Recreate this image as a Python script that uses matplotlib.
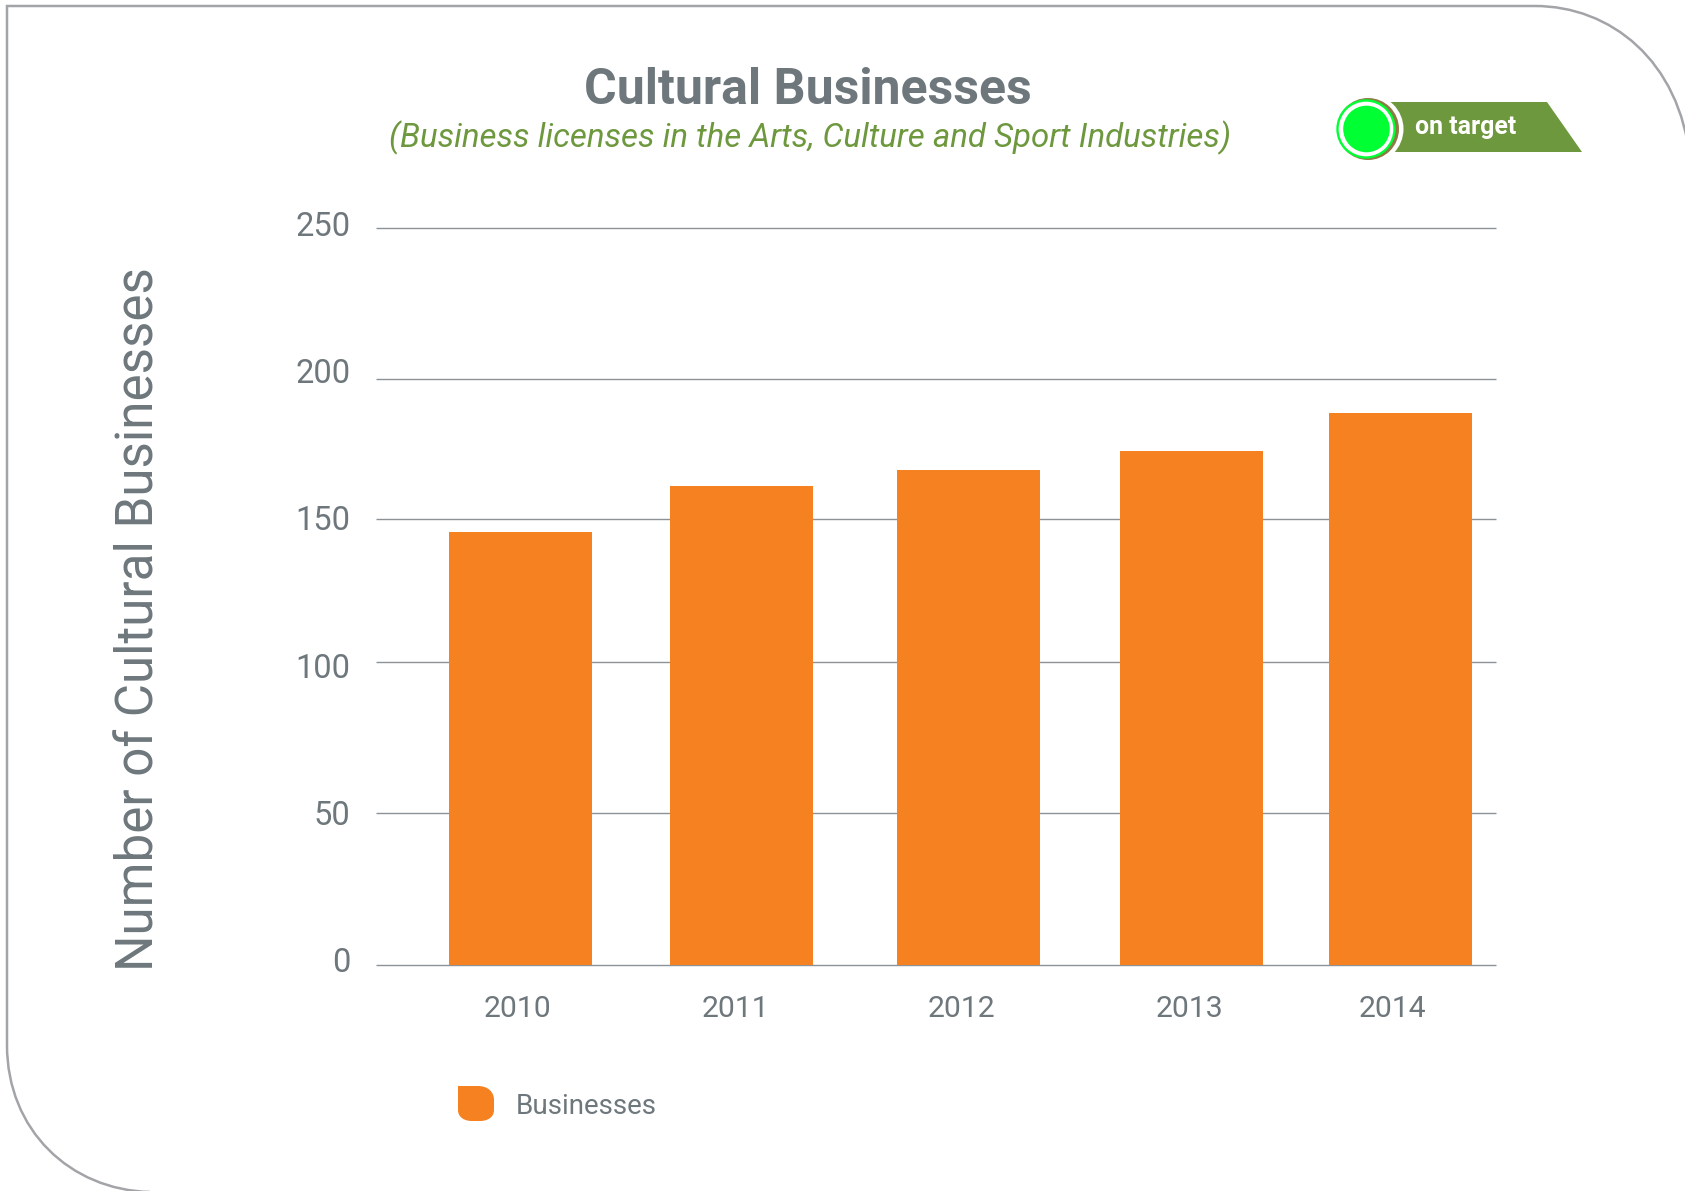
import matplotlib
matplotlib.use('Agg')
import matplotlib.pyplot as plt
from matplotlib.patches import Circle, PathPatch, Polygon
from matplotlib.path import Path
from matplotlib.transforms import Affine2D, ScaledTranslation

plt.rcParams['font.family'] = ['Roboto', 'DejaVu Sans']

W, H = 1685, 1191

years = ['2010', '2011', '2012', '2013', '2014']
businesses = [147, 162.5, 168, 174.5, 187.2]
y_ticks = [0, 50, 100, 150, 200, 250]

# the gridlines in the original are not evenly spaced
grid_levels = [0, 51.4, 102.8, 151.3, 198.8, 250]

# slots are not regular either
bar_pos = [0, 1.005, 2.036, 3.05, 4]
label_pos = [-0.012, 0.98, 2.006, 3.043, 3.965]

GREY = '#6d777c'
ORANGE = '#f68121'
GREEN = '#6d983e'
LIME = '#00ff33'

fig = plt.figure(figsize=(W / 100, H / 100), dpi=100, facecolor='white')
ax = fig.add_axes([376 / W, (H - 965) / H, 1120 / W, 737 / H])

# everything outside the axes is placed in picture pixels, y going down
px = Affine2D().scale(1 / W, -1 / H).translate(0, 1) + fig.transFigure

ax.hlines(grid_levels, -0.655, 4.436, color='#8c9296', lw=1.0, zorder=1, clip_on=False)
ax.bar(bar_pos, businesses, width=0.65, color=ORANGE, zorder=2)

ax.set_xlim(-0.655, 4.436)
ax.set_ylim(0, 250)
for s in ax.spines.values():
    s.set_visible(False)

ax.set_xticks(label_pos, years)
ax.set_yticks(y_ticks)
ax.tick_params(axis='both', length=0, labelcolor=GREY)
ax.tick_params(axis='x', labelsize=21.7, pad=21.7)
ax.tick_params(axis='y', labelsize=23.5, pad=18.5)
# y labels sit a little above their lines
shift = ScaledTranslation(0, 5 / 100, fig.dpi_scale_trans)
for lab in ax.get_yticklabels():
    lab.set_transform(lab.get_transform() + shift)

fig.text(140 / W, 1 - 619 / H, 'Number of Cultural Businesses', rotation=90,
         ha='center', va='center', fontsize=36.8, color=GREY)
fig.text(808 / W, 1 - 91 / H, 'Cultural Businesses', ha='center', va='center',
         fontsize=36, fontweight='bold', color=GREY)
fig.text(810 / W, 1 - 138 / H, '(Business licenses in the Arts, Culture and Sport Industries)',
         ha='center', va='center', fontsize=23.75, style='italic', color=GREEN)

# outer frame, only top and left are closed, the corners run off the page
frame = Path([(1690, 160), (1680, 60), (1610, 6), (1535, 6), (7, 6), (7, 1045),
              (7, 1130), (70, 1190), (150, 1192)],
             [Path.MOVETO, Path.CURVE4, Path.CURVE4, Path.CURVE4, Path.LINETO, Path.LINETO,
              Path.CURVE4, Path.CURVE4, Path.CURVE4])
fig.add_artist(PathPatch(frame, fc='none', ec='#a2a4a8', lw=1.8, transform=px))

# on target badge
fig.add_artist(Polygon([(1380, 102), (1547, 102), (1582, 152), (1380, 152)], fc=GREEN, ec='none', transform=px))
fig.add_artist(Circle((1369, 129), 34.5, fc='white', ec='none', transform=px))
fig.add_artist(Circle((1368, 129), 31, fc='#8d7b45', ec='none', transform=px))
fig.add_artist(Circle((1366, 129), 28.5, fc='white', ec=LIME, lw=1.7, transform=px))
fig.add_artist(Circle((1366.5, 129), 23.3, fc=LIME, ec='none', transform=px))
fig.text(1466 / W, 1 - 127 / H, 'on target', ha='center', va='center',
         fontsize=17.9, fontweight='bold', color='white')

# legend swatch, square top left corner
swatch = Path([(458, 1086), (478, 1086), (488, 1086), (494, 1092), (494, 1100), (494, 1110),
               (494, 1117), (488, 1121), (480, 1121), (472, 1121), (464, 1121), (458, 1117),
               (458, 1110), (458, 1086)],
              [Path.MOVETO, Path.LINETO, Path.CURVE4, Path.CURVE4, Path.CURVE4, Path.LINETO,
               Path.CURVE4, Path.CURVE4, Path.CURVE4, Path.LINETO, Path.CURVE4, Path.CURVE4,
               Path.CURVE4, Path.CLOSEPOLY])
fig.add_artist(PathPatch(swatch, fc=ORANGE, ec='none', transform=px))
fig.text(516 / W, 1 - 1107 / H, 'Businesses', ha='left', va='center', fontsize=20, color=GREY)

fig.savefig('out.png', dpi=100)
